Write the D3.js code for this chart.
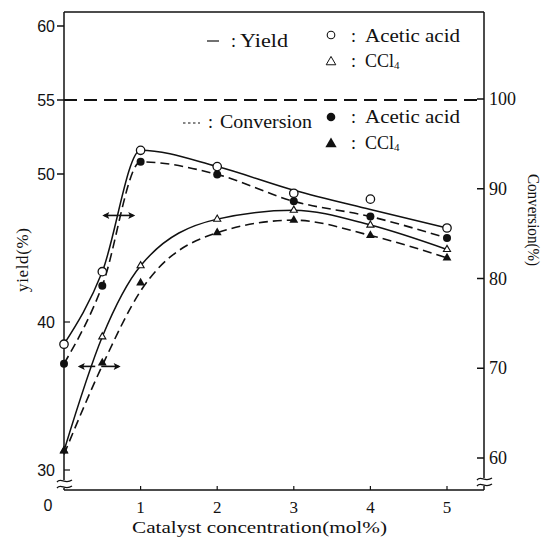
<!DOCTYPE html>
<html><head><meta charset="utf-8">
<script src="https://cdn.jsdelivr.net/npm/d3@7/dist/d3.min.js"></script>
<style>
html,body{margin:0;padding:0;background:#fff;}
svg{display:block;}
text{fill:#111;}
</style></head>
<body>
<svg id="chart" width="545" height="547"></svg>
<script>
// ---- data ----
const catalyst = [0, 0.5, 1, 2, 3, 4, 5];
// Yield (%) - left axis
const yieldAcetic = [38.5, 43.4, 51.6, 50.5, 48.7, 48.3, 46.35];
const yieldCCl4   = [31.3, 39.0, 43.8, 46.95, 47.55, 46.55, 44.9];
// Conversion (%) - right axis
const convAcetic  = [70.5, 79.2, 93.0, 91.6, 88.6, 86.9, 84.5];
const convCCl4    = [60.8, 70.6, 79.5, 85.1, 86.5, 84.8, 82.3];
// smoothed curves as drawn in the figure
const yieldAceticCurve = [38.5, 43.4, 51.6, 50.5, 48.9, 47.6, 46.35];
const yieldCCl4Curve   = [31.3, 39.0, 43.8, 46.95, 47.55, 46.55, 44.9];
const convAceticCurve  = [70.5, 79.2, 93.0, 91.6, 88.6, 86.9, 84.5];
const convCCl4Curve    = [60.4, 70.3, 78.6, 85.1, 86.5, 84.8, 82.3];
// tick labels
const xTicks = [1, 2, 3, 4, 5];
const yLeftTicks = [30, 40, 50, 55, 60];
const yRightTicks = [60, 70, 80, 90, 100];
const refYield = 55; // dashed reference line (= 100 % conversion)
// double arrows (annotation): [x-from, x-to, yield level]
const arrowsUpper = [0.5, 0.93, 47.2];
const arrowsLower = [0.18, 0.74, 37.0];

// ---- layout ----
const L = 64, R = 484, T = 12, B = 490;
const svg = d3.select("#chart");
const x = d3.scaleLinear().domain([0, 5]).range([L, 447]);
const yL = d3.scaleLinear().domain([30, 60]).range([470, 26]);
const yR = d3.scaleLinear().domain([60, 100]).range([458, 99]);
const serif = "'Liberation Serif','Times New Roman',serif";
const sans = "'Liberation Sans',Arial,sans-serif";
const ink = "#111";

// frame
const g = svg.append("g").attr("stroke", ink).attr("fill", "none").attr("stroke-width", 1.5);
g.append("line").attr("x1", L).attr("x2", R).attr("y1", T).attr("y2", T);
g.append("line").attr("x1", L).attr("x2", L).attr("y1", T).attr("y2", 480);
g.append("line").attr("x1", L).attr("x2", L).attr("y1", 488).attr("y2", B);
g.append("line").attr("x1", R).attr("x2", R).attr("y1", T).attr("y2", 478);
g.append("line").attr("x1", R).attr("x2", R).attr("y1", 486).attr("y2", B);
g.append("line").attr("x1", L).attr("x2", R).attr("y1", B).attr("y2", B);
// axis-break squiggles
function squiggle(cx, cy) {
  [-3, 3].forEach(dy => {
    g.append("path").attr("stroke-width", 1.3)
      .attr("d", `M${cx-7},${cy+dy+1} C${cx-3},${cy+dy-4} ${cx+1},${cy+dy+4} ${cx+8},${cy+dy-1}`);
  });
}
squiggle(L, 484);
squiggle(R, 482);

// left ticks
yLeftTicks.forEach(v => {
  const yy = yL(v);
  if (v >= 50) g.append("line").attr("x1", L-7).attr("x2", L).attr("y1", yy).attr("y2", yy);
  else g.append("line").attr("x1", L).attr("x2", L+6).attr("y1", yy).attr("y2", yy).attr("stroke-width", 1.2);
});
svg.append("g").selectAll("text").data(yLeftTicks).join("text")
  .attr("x", 55).attr("y", d => yL(d) + 5.5).attr("text-anchor", "end")
  .attr("font-family", sans).attr("font-size", 16).text(d => d);
svg.append("text").attr("x", 48).attr("y", 511).attr("text-anchor", "middle")
  .attr("font-family", sans).attr("font-size", 16).text("0");

// right ticks
yRightTicks.forEach(v => {
  const yy = yR(v);
  g.append("line").attr("x1", R-7).attr("x2", R).attr("y1", yy).attr("y2", yy);
});
svg.append("g").selectAll("text").data(yRightTicks).join("text")
  .attr("x", 489).attr("y", d => yR(d) + 6).attr("text-anchor", "start")
  .attr("font-family", serif).attr("font-size", 18).text(d => d);

// x ticks
xTicks.forEach(v => {
  g.append("line").attr("x1", x(v)).attr("x2", x(v)).attr("y1", B).attr("y2", B-4).attr("stroke-width", 1.2);
});
svg.append("g").selectAll("text").data(xTicks).join("text")
  .attr("x", d => x(d)).attr("y", 513).attr("text-anchor", "middle")
  .attr("font-family", serif).attr("font-size", 17).text(d => d);

// axis titles
svg.append("text").attr("x", 132).attr("y", 533).attr("font-family", serif).attr("font-size", 17)
  .attr("textLength", 255).attr("lengthAdjust", "spacingAndGlyphs").text("Catalyst concentration(mol%)");
svg.append("text").attr("transform", "translate(28,260) rotate(-90)").attr("text-anchor", "middle")
  .attr("font-family", serif).attr("font-size", 17).attr("textLength", 64).attr("lengthAdjust", "spacing")
  .text("yield(%)");
svg.append("text").attr("transform", "translate(528,220) rotate(90)").attr("text-anchor", "middle")
  .attr("font-family", serif).attr("font-size", 16).attr("textLength", 92).attr("lengthAdjust", "spacingAndGlyphs")
  .text("Conversion(%)");

// reference dashed line at 55 / 100
svg.append("line").attr("x1", L).attr("x2", R).attr("y1", yL(refYield)).attr("y2", yL(refYield))
  .attr("stroke", ink).attr("stroke-width", 1.8).attr("stroke-dasharray", "13,7");

// curves
const lineL = d3.line().x((d, i) => x(catalyst[i])).y(d => yL(d)).curve(d3.curveMonotoneX);
const lineR = d3.line().x((d, i) => x(catalyst[i])).y(d => yR(d)).curve(d3.curveMonotoneX);
const cg = svg.append("g").attr("fill", "none").attr("stroke", ink);
cg.append("path").attr("d", lineL(yieldAceticCurve)).attr("stroke-width", 1.5);
cg.append("path").attr("d", lineL(yieldCCl4Curve)).attr("stroke-width", 1.5);
cg.append("path").attr("d", lineR(convAceticCurve)).attr("stroke-width", 1.6).attr("stroke-dasharray", "9,5");
cg.append("path").attr("d", lineR(convCCl4Curve)).attr("stroke-width", 1.6).attr("stroke-dasharray", "9,5");

// markers
const mg = svg.append("g");
const triUp = d3.symbol().type(d3.symbolTriangle);
mg.selectAll(".oc").data(yieldAcetic).join("circle")
  .attr("cx", (d, i) => x(catalyst[i])).attr("cy", d => yL(d)).attr("r", 4.2)
  .attr("fill", "#fff").attr("stroke", ink).attr("stroke-width", 1.3);
mg.selectAll(".fc").data(convAcetic).join("circle")
  .attr("cx", (d, i) => x(catalyst[i])).attr("cy", d => yR(d)).attr("r", 4)
  .attr("fill", ink);
mg.selectAll(".ot").data(yieldCCl4).join("path")
  .attr("transform", (d, i) => `translate(${x(catalyst[i])},${yL(d)})`)
  .attr("d", triUp.size(22)()).attr("fill", "#fff").attr("stroke", ink).attr("stroke-width", 1.1);
mg.selectAll(".ft").data(convCCl4).join("path")
  .attr("transform", (d, i) => `translate(${x(catalyst[i])},${yR(d)})`)
  .attr("d", triUp.size(34)()).attr("fill", ink);

// double arrows
function dblArrow(a, split) {
  const [x0, x1, v] = a;
  const yy = yL(v), ax0 = x(x0), ax1 = x(x1);
  const mid = (ax0 + ax1) / 2;
  const ag = svg.append("g").attr("stroke", ink).attr("stroke-width", 1.6).attr("fill", ink);
  const l1 = split ? mid - 4 : mid, l2 = split ? mid + 2 : mid;
  ag.append("line").attr("x1", ax0 + 2).attr("x2", l1).attr("y1", yy).attr("y2", yy);
  ag.append("line").attr("x1", l2).attr("x2", ax1 - 2).attr("y1", yy).attr("y2", yy);
  ag.append("path").attr("stroke", "none").attr("d", `M${ax0},${yy} l7,-3.5 l-1.5,3.5 l1.5,3.5 z`);
  ag.append("path").attr("stroke", "none").attr("d", `M${ax1},${yy} l-7,-3.5 l1.5,3.5 l-1.5,3.5 z`);
}
dblArrow(arrowsUpper, false);
dblArrow(arrowsLower, true);

// legend
const lg = svg.append("g").attr("font-family", serif).attr("font-size", 18);
lg.append("line").attr("x1", 207).attr("x2", 219).attr("y1", 41).attr("y2", 41).attr("stroke", ink).attr("stroke-width", 1.2);
lg.append("text").attr("x", 231).attr("y", 47).text(":");
lg.append("text").attr("x", 240).attr("y", 47).attr("textLength", 48).attr("lengthAdjust", "spacingAndGlyphs").text("Yield");
lg.append("circle").attr("cx", 331).attr("cy", 35).attr("r", 3.8).attr("fill", "#fff").attr("stroke", ink).attr("stroke-width", 1.1);
lg.append("text").attr("x", 351).attr("y", 42).text(":");
lg.append("text").attr("x", 365).attr("y", 42).attr("textLength", 95).attr("lengthAdjust", "spacingAndGlyphs").text("Acetic acid");
lg.append("path").attr("transform", "translate(331,62)").attr("d", triUp.size(40)()).attr("fill", "#fff").attr("stroke", ink).attr("stroke-width", 1);
lg.append("text").attr("x", 351).attr("y", 67).text(":");
const t1 = lg.append("text").attr("x", 365).attr("y", 67);
t1.append("tspan").text("CCl");
t1.append("tspan").attr("font-size", 11).attr("dy", 2).text("4");

lg.append("line").attr("x1", 183).attr("x2", 200).attr("y1", 123).attr("y2", 123).attr("stroke", ink).attr("stroke-width", 1.1).attr("stroke-dasharray", "2.5,2.5");
lg.append("text").attr("x", 208).attr("y", 128).text(":");
lg.append("text").attr("x", 220).attr("y", 128).attr("textLength", 92).attr("lengthAdjust", "spacingAndGlyphs").text("Conversion");
lg.append("circle").attr("cx", 331).attr("cy", 117).attr("r", 4.3).attr("fill", ink);
lg.append("text").attr("x", 351).attr("y", 123).text(":");
lg.append("text").attr("x", 365).attr("y", 123).attr("textLength", 95).attr("lengthAdjust", "spacingAndGlyphs").text("Acetic acid");
lg.append("path").attr("transform", "translate(331,144)").attr("d", triUp.size(55)()).attr("fill", ink);
lg.append("text").attr("x", 351).attr("y", 149).text(":");
const t2 = lg.append("text").attr("x", 365).attr("y", 149);
t2.append("tspan").text("CCl");
t2.append("tspan").attr("font-size", 11).attr("dy", 2).text("4");
</script>
</body></html>
